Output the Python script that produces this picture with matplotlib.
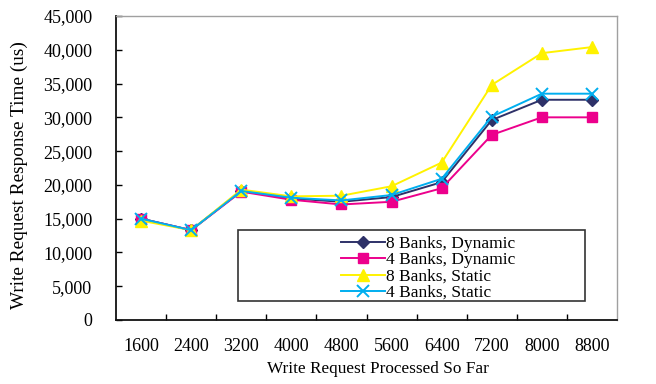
import matplotlib
matplotlib.use("Agg")
import matplotlib.pyplot as plt
from matplotlib.patches import Rectangle
from matplotlib.ticker import FuncFormatter, MultipleLocator
import numpy as np

plt.rcParams['font.family'] = ['Liberation Serif', 'DejaVu Serif']

categories = ["1600", "2400", "3200", "4000", "4800", "5600", "6400", "7200", "8000", "8800"]

banks8_dynamic = [15000, 13300, 19100, 18000, 17500, 18200, 20400, 29600, 32600, 32600]
banks4_dynamic = [15000, 13300, 19000, 17800, 17100, 17500, 19500, 27400, 30000, 30000]
banks8_static = [14700, 13300, 19300, 18300, 18400, 19800, 23300, 34800, 39500, 40400]
banks4_static = [15000, 13300, 19100, 18100, 17700, 18500, 20900, 30100, 33500, 33500]

series_labels = ["8 Banks, Dynamic", "4 Banks, Dynamic", "8 Banks, Static", "4 Banks, Static"]

fig = plt.figure(figsize=(6.56, 3.84), dpi=100)
ax = fig.add_axes([116 / 656, 64 / 384, 501 / 656, 304 / 384])

x = np.arange(len(categories))
styles = [
    dict(color="#2E3168", marker="D", markersize=6.5),
    dict(color="#EC008C", marker="s", markersize=7.5),
    dict(color="#FFF200", marker="^", markersize=8.5),
    dict(color="#00AEEF", marker="x", markersize=8.5, markeredgewidth=1.4),
]
handles = []
for vals, lab, st in zip([banks8_dynamic, banks4_dynamic, banks8_static, banks4_static],
                         series_labels, styles):
    h, = ax.plot(x, vals, linewidth=1.4, label=lab, **st)
    handles.append(h)

ax.set_xlim(-0.5, len(categories) - 0.5)
ax.set_ylim(0, 45000)
ax.set_xticks(x)
ax.set_xticklabels(categories)
ax.set_xticks(np.arange(0.5, len(categories) - 1, 1.0), minor=True)
ax.yaxis.set_major_locator(MultipleLocator(5000))
ax.yaxis.set_major_formatter(FuncFormatter(lambda v, p: f"{int(v):,}"))

ax.tick_params(axis="x", which="major", length=0, pad=13, labelsize=13)
ax.tick_params(axis="x", which="minor", direction="in", length=4, width=1)
ax.tick_params(axis="y", direction="in", length=4, width=1, pad=17, labelsize=13)

for side in ["top", "right"]:
    ax.spines[side].set_color("#A0A0A0")
    ax.spines[side].set_linewidth(1.0)
for side in ["left", "bottom"]:
    ax.spines[side].set_color("#111111")
    ax.spines[side].set_linewidth(1.3)

ax.set_xlabel("Write Request Processed So Far", fontsize=12.4)
ax.xaxis.set_label_coords((378 - 116) / 501, (320 - 369) / 304)
ax.xaxis.label.set_verticalalignment("center")

ax.set_ylabel("Write Request Response Time (us)", fontsize=13.9)
ax.yaxis.set_label_coords((19 - 116) / 501, (320 - 175) / 304)
ax.yaxis.label.set_verticalalignment("center")

# legend frame box
box = Rectangle((238 / 656, (384 - 301) / 384), (585 - 238) / 656, (301 - 230) / 384,
                transform=fig.transFigure, fill=True, facecolor="white",
                edgecolor="#333333", linewidth=1.2, zorder=5)
fig.patches.append(box)

leg = fig.legend(handles=handles, labels=series_labels, loc="upper left",
                 bbox_to_anchor=(329 / 656, (384 - 224) / 384),
                 frameon=False, fontsize=12.5, handlelength=2.5, handletextpad=0.1,
                 labelspacing=0.0, borderpad=0.2)
leg.set_zorder(6)

fig.savefig("out.png", dpi=100)
